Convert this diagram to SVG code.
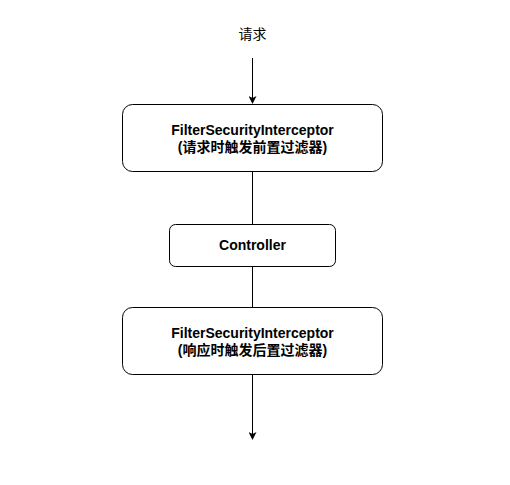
<svg xmlns="http://www.w3.org/2000/svg" width="510" height="485" viewBox="0 0 510 485">
<style>
.box{fill:#fff;stroke:#000;stroke-width:1}
.t{font-family:"Liberation Sans","Noto Sans CJK SC",sans-serif;font-size:14px;font-weight:bold;text-anchor:middle;fill:#000}
.lbl{font-family:"Liberation Sans","Noto Sans CJK SC",sans-serif;font-size:14px;text-anchor:middle;fill:#000}
.c{stroke:#000;stroke-width:1;fill:none}
</style>
<defs>
<marker id="ah" markerWidth="8" markerHeight="8" refX="7" refY="4" orient="auto" markerUnits="userSpaceOnUse">
<path d="M0,0 L8,4 L0,8 L2,4 Z" fill="#000"/>
</marker>
</defs>
<rect width="510" height="485" fill="#fff"/>
<g id="connectors">
<line class="c" x1="252.5" y1="58" x2="252.5" y2="103" marker-end="url(#ah)"/>
<line class="c" x1="252.5" y1="171.5" x2="252.5" y2="224.5"/>
<line class="c" x1="252.5" y1="266.5" x2="252.5" y2="307.5"/>
<line class="c" x1="252.5" y1="374.5" x2="252.5" y2="439" marker-end="url(#ah)"/>
</g>
<g id="request">
<text class="lbl" x="252.5" y="39">请求</text>
</g>
<g id="pre">
<rect class="box" x="122.5" y="104.5" width="260" height="67" rx="10"/>
<text class="t" x="252.5" y="135">FilterSecurityInterceptor</text>
<text class="t" x="252.5" y="152">(请求时触发前置过滤器)</text>
</g>
<g id="controller">
<rect class="box" x="169.5" y="224.5" width="166" height="42" rx="6"/>
<text class="t" x="252.5" y="250">Controller</text>
</g>
<g id="post">
<rect class="box" x="122.5" y="307.5" width="260" height="67" rx="10"/>
<text class="t" x="252.5" y="338">FilterSecurityInterceptor</text>
<text class="t" x="252.5" y="355">(响应时触发后置过滤器)</text>
</g>
</svg>
